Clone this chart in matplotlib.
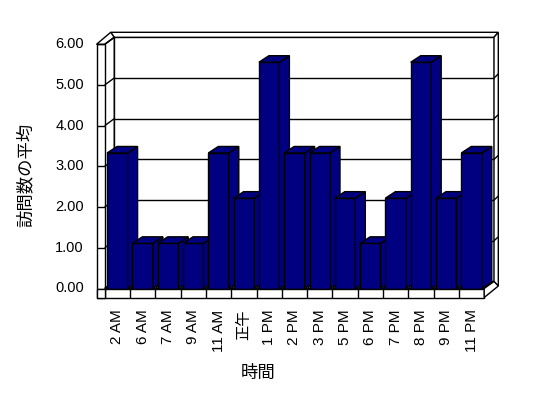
import matplotlib
matplotlib.use("Agg")
import matplotlib.pyplot as plt
import matplotlib.transforms as mtransforms
from matplotlib.patches import Polygon
from matplotlib.lines import Line2D

categories = ["2 AM", "6 AM", "7 AM", "9 AM", "11 AM", "正午", "1 PM", "2 PM",
              "3 PM", "5 PM", "6 PM", "7 PM", "8 PM", "9 PM", "11 PM"]
values = [3.33, 1.11, 1.11, 1.11, 3.33, 2.22, 5.56, 3.33,
          3.33, 2.22, 1.11, 2.22, 5.56, 2.22, 3.33]
yticks = [0, 1, 2, 3, 4, 5, 6]
ytick_labels = ["0.00", "1.00", "2.00", "3.00", "4.00", "5.00", "6.00"]
xlabel = "時間"
ylabel = "訪問数の平均"

W, H = 548, 398
fig = plt.figure(figsize=(W / 100, H / 100), dpi=100)
fig.patch.set_facecolor("white")

# pixel geometry of the front plane
FX0, FX1 = 104.7, 484.2
Y0, YTOP = 288.5, 44.3
n = len(categories)
sx = (FX1 - FX0) / n
sy = (Y0 - YTOP) / 6.0

ax = fig.add_axes([FX0 / W, (H - Y0) / H, (FX1 - FX0) / W, (Y0 - YTOP) / H])
ax.set_xlim(-0.5, n - 0.5)
ax.set_ylim(0, 6)
ax.axis("off")
ax.set_zorder(5)
ax.patch.set_visible(False)

T = mtransforms.Affine2D().scale(1 / W, -1 / H).translate(0, 1) + fig.transFigure

def line(xs, ys, z=1, lw=1.0):
    fig.add_artist(Line2D(xs, ys, transform=T, color="black", lw=lw, zorder=z,
                          solid_capstyle="butt"))

def poly(pts, z=1, fc="white"):
    fig.add_artist(Polygon(pts, closed=True, transform=T, facecolor=fc,
                           edgecolor="black", lw=1.0, zorder=z))

def yf(v):
    return Y0 - sy * v

DX, DY = 9.5, -7.0
BX0, BX1 = FX0 + DX, 494.0
SLAB = 297.5
LX = 96.5
TOPO = 32.3
RO = 498.3

# back wall (inner face)
poly([(BX0, yf(6) + DY), (BX1, yf(6) + DY), (BX1, Y0 + DY), (BX0, Y0 + DY)], z=1)
# back wall top face
poly([(110.7, TOPO), (RO, TOPO), (BX1, yf(6) + DY), (BX0, yf(6) + DY)], z=1)
# right edge of back wall
poly([(BX1, yf(6) + DY), (RO, TOPO), (RO, 286.0), (BX1, Y0 + DY)], z=1)
# left wall inner face
poly([(FX0, yf(6)), (BX0, yf(6) + DY), (BX0, Y0 + DY), (FX0, Y0)], z=1.1)
# left wall front face and top
poly([(LX, yf(6)), (FX0, yf(6)), (FX0, SLAB), (LX, SLAB)], z=1.2)
poly([(LX, yf(6)), (FX0, yf(6)), (BX0, yf(6) + DY), (110.7, TOPO)], z=1.2)

# gridlines on back wall and left wall, ticks
for v, lab in zip(yticks, ytick_labels):
    yb = yf(v) + DY
    if 0 < v < 6:
        line([BX0, BX1], [yb, yb], z=1.5)
        line([BX1, RO], [yb, yb - 4], z=1.5)
    line([FX0, BX0], [yf(v), yb], z=1.5)
    line([LX, FX0], [yf(v), yf(v)], z=1.5)
    fig.text(84 / W, 1 - yf(v) / H, lab,
             ha="right", va="center", fontsize=10.5,
             family=["Liberation Sans", "DejaVu Sans"])

# floor top
poly([(FX0, Y0), (FX1, Y0), (BX1, Y0 + DY), (BX0, Y0 + DY)], z=1.6)
for i in range(1, n):
    x = FX0 + sx * i
    line([x, x + DX], [Y0, Y0 + DY], z=1.7)

# bars
bw = 0.81
bdx = 10.0 / sx
bdy = 6.5 / sy
for i, v in enumerate(values):
    z = 3 + i
    ax.bar(i, v, width=bw, color="#000080", edgecolor="black", lw=1.0,
           zorder=z, clip_on=False)
    l, r = i - bw / 2, i + bw / 2
    ax.add_patch(Polygon([(r, 0), (r + bdx, bdy), (r + bdx, v + bdy), (r, v)],
                         closed=True, facecolor="#000080", edgecolor="black",
                         lw=1.0, zorder=z, clip_on=False))
    ax.add_patch(Polygon([(l, v), (r, v), (r + bdx, v + bdy), (l + bdx, v + bdy)],
                         closed=True, facecolor="#000080", edgecolor="black",
                         lw=1.0, zorder=z, clip_on=False))

# floor slab front and right face
poly([(FX0, Y0), (FX1, Y0), (FX1, SLAB), (FX0, SLAB)], z=30)
poly([(FX1, Y0), (BX1, Y0 + DY), (RO, 286.0), (FX1, SLAB)], z=30)
poly([(LX, Y0), (FX0, Y0), (FX0, SLAB), (LX, SLAB)], z=30)
for i in range(1, n):
    x = FX0 + sx * i
    line([x, x], [Y0, SLAB], z=31)

# category labels
off = mtransforms.ScaledTranslation(0, -21 / 100, fig.dpi_scale_trans)
for i, c in enumerate(categories):
    ax.text(i, 0, c, rotation=90, ha="center", va="top", fontsize=11,
            family=["Liberation Sans", "Noto Sans CJK JP"],
            transform=ax.transData + off)

fig.text(258 / W, 1 - 373 / H, xlabel, ha="center", va="center", fontsize=12.5,
         family=["Noto Sans CJK JP"])
fig.text(25.5 / W, 1 - 175 / H, ylabel, ha="center", va="center", fontsize=12.5,
         rotation=90, family=["Noto Sans CJK JP"])

fig.savefig("out.png", dpi=100, facecolor="white")
